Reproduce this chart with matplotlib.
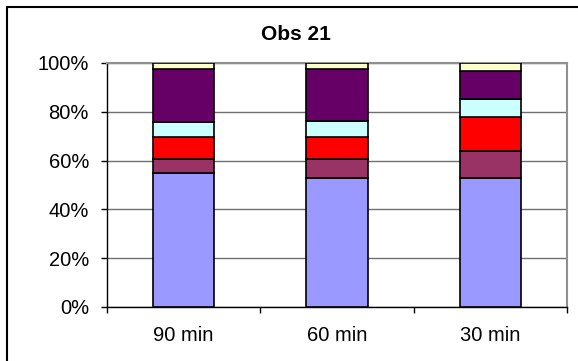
import matplotlib.pyplot as plt
from matplotlib.patches import Rectangle
import numpy as np

plt.rcParams['font.family'] = ['Liberation Sans', 'DejaVu Sans']

categories = ['90 min', '60 min', '30 min']
# stacked segment shares in percent, bottom to top
seg_blue = [55.0, 52.7, 52.7]
seg_mauve = [5.8, 8.0, 11.4]
seg_red = [8.8, 8.9, 13.9]
seg_cyan = [6.1, 6.5, 7.3]
seg_purple = [21.8, 21.4, 11.6]
seg_yellow = [2.5, 2.5, 3.1]

segments = [seg_blue, seg_mauve, seg_red, seg_cyan, seg_purple, seg_yellow]
colors = ['#9999FF', '#993366', '#FF0000', '#CCFFFF', '#660066', '#FFFFCC']

fig = plt.figure(figsize=(5.78, 3.61), dpi=100)
ax = fig.add_axes([107 / 578, 1 - 307 / 361, 460 / 578, 244 / 361])

x = np.arange(len(categories))
bottom = np.zeros(len(categories))
for vals, col in zip(segments, colors):
    ax.bar(x, vals, bottom=bottom, width=0.4, color=col,
           edgecolor='black', linewidth=1.2, zorder=3)
    bottom += np.array(vals)

ax.set_xlim(-0.5, 2.5)
ax.set_ylim(0, 100)
ax.set_yticks([0, 20, 40, 60, 80, 100])
ax.set_yticklabels(['0%', '20%', '40%', '60%', '80%', '100%'], fontsize=14.5)
ax.yaxis.grid(True, color='#707070', linewidth=1, zorder=0)

ax.set_xticks([-0.5, 0.5, 1.5, 2.5])
ax.set_xticklabels([])
ax.set_xticks(x, minor=True)
ax.set_xticklabels(categories, minor=True, fontsize=14.5)
ax.tick_params(axis='x', which='minor', length=0, pad=14)
ax.tick_params(axis='x', which='major', length=4, width=1, color='black')
ax.tick_params(axis='y', length=4, width=1, pad=9)

ax.spines['left'].set_color('black')
ax.spines['bottom'].set_color('black')
ax.spines['top'].set_color('#909090')
ax.spines['right'].set_color('#909090')
for s in ax.spines.values():
    s.set_linewidth(1)
ax.spines['right'].set_linewidth(1.5)
ax.spines['top'].set_linewidth(1.5)

fig.text(296 / 578, 1 - 35 / 361, 'Obs 21', ha='center', va='center',
         fontsize=15, fontweight='bold')

# chart-area border: only left and top edges fall inside the picture
fig.add_artist(Rectangle((7 / 578, -0.5), 2.0, 1.5 - 7 / 361,
                         transform=fig.transFigure, fill=False,
                         edgecolor='black', linewidth=1.5))

fig.savefig('out.png', dpi=100)
